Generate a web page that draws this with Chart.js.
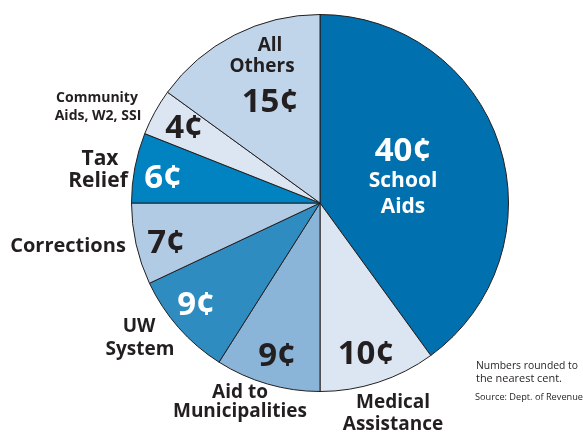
<!DOCTYPE html>
<html><head><meta charset="utf-8">
<script src="https://cdn.jsdelivr.net/npm/chart.js@4.4.0/dist/chart.umd.min.js"></script>
<style>html,body{margin:0;padding:0;background:#fff;}#wrap{width:583px;height:434px;position:relative;}</style>
</head><body><div id="wrap"><canvas id="c" width="583" height="434"></canvas></div>
<script>
const categories = ["School Aids","Medical Assistance","Aid to Municipalities","UW System","Corrections","Tax Relief","Community Aids, W2, SSI","All Others"];
const cents = [40,10,9,9,7,6,4,15];
const valueLabels = ["40¢","10¢","9¢","9¢","7¢","6¢","4¢","15¢"];
const sliceColors = ["#0070ae","#dce6f2","#8ab4d8","#2f8cc1","#b2cbe5","#0083c0","#dce6f2","#c1d5ea"];
const valueColors = ["#fff","#231f20","#231f20","#fff","#231f20","#fff","#231f20","#231f20"];
const noteLines = ["Numbers rounded to","the nearest cent."];
const sourceLine = "Source: Dept. of Revenue";

// label layout (text positions only)
const valuePos = [[403,152],[366,355],[277,357],[196,306],[166,244],[163,179],[184,129],[270,103]];
const namePos = [
  [[403,181,"School"],[403,207,"Aids"]],
  [[393,403,"Medical"],[393,425,"Assistance"]],
  [[240,393,"Aid to"],[240,412,"Municipalities"]],
  [[139,327,"UW"],[140,350,"System"]],
  [[68,246,"Corrections"]],
  [[100,159,"Tax"],[98,181,"Relief"]],
  [[97,98,"Community"],[98,116,"Aids, W2, SSI"]],
  [[270,46,"All"],[262,67,"Others"]]
];
const nameSize = [21,19,19,19,20,21,14,19];
const nameColor = ["#fff","#231f20","#231f20","#231f20","#231f20","#231f20","#231f20","#231f20"];
const FONT = '"Open Sans", "Noto Sans", sans-serif';

const labelPlugin = {
  id: 'labels',
  afterDraw(chart) {
    const ctx = chart.ctx;
    ctx.save();
    ctx.textAlign = 'center';
    ctx.textBaseline = 'middle';
    valueLabels.forEach((t, i) => {
      ctx.font = `700 33px ${FONT}`;
      ctx.fillStyle = valueColors[i];
      ctx.fillText(t, valuePos[i][0], valuePos[i][1]);
    });
    namePos.forEach((lines, i) => {
      ctx.font = `700 ${nameSize[i]}px ${FONT}`;
      ctx.fillStyle = nameColor[i];
      lines.forEach(([x, y, t]) => ctx.fillText(t, x, y));
    });
    ctx.textAlign = 'left';
    ctx.fillStyle = '#231f20';
    ctx.font = `400 11px ${FONT}`;
    ctx.fillText(noteLines[0], 476, 366, 102);
    ctx.fillText(noteLines[1], 476, 379, 86);
    ctx.font = `400 9.5px ${FONT}`;
    ctx.fillText(sourceLine, 475, 397, 108);
    ctx.restore();
  }
};

new Chart(document.getElementById('c'), {
  type: 'pie',
  data: {
    labels: categories,
    datasets: [{
      data: cents,
      backgroundColor: sliceColors,
      borderColor: '#231f20',
      borderWidth: 1,
      borderAlign: 'center'
    }]
  },
  options: {
    responsive: false,
    animation: false,
    events: [],
    layout: { padding: { top: 14, bottom: 42, left: 131, right: 74 } },
    plugins: { legend: { display: false }, tooltip: { enabled: false } }
  },
  plugins: [labelPlugin]
});
</script></body></html>
